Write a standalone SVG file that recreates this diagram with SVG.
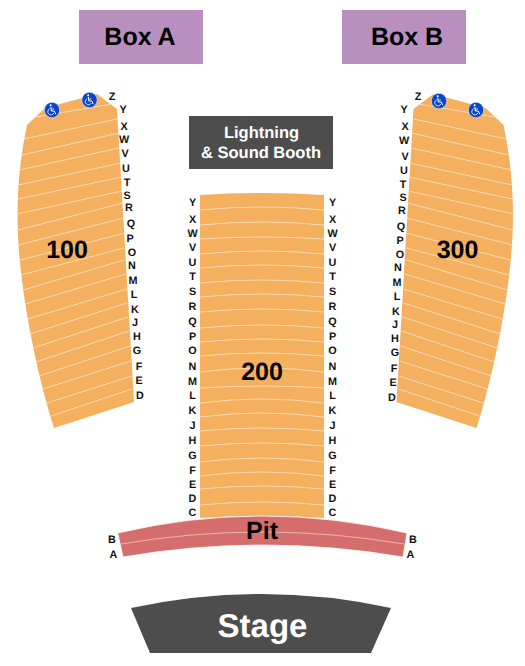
<svg xmlns="http://www.w3.org/2000/svg" xmlns:xlink="http://www.w3.org/1999/xlink" width="525" height="666" viewBox="0 0 525 666">
<style>
text{font-family:"Liberation Sans",Arial,sans-serif;font-weight:700;text-anchor:middle;text-rendering:geometricPrecision}
.sec{fill:#f4af5f}
.row{fill:none;stroke:#fbe6cc;stroke-width:.8}
.lab{font-size:10.800px;fill:#111}
.big{font-size:25px;fill:#000}
.box{fill:#b98fc0}
.dark{fill:#4d4d4d}
</style>
<defs>
<path id="side" d="M97 94L117 109L134 402L54 428C36 372 17 280 17.5 213C18 175 22 150 27 125L45 108Z"/>
<path id="sideRows" d="M36 117L112 104M24 139L117 119M22 155L119 133M19 170L119 148M18 185L121 163M18 199L122 177M17 214L122 191M18 230L123 203M18 245L124 218M20 260L125 233M21 275L124 248M23 290L124 260M25 304L126 274M28 319L127 289M30 334L127 303M33 348L128 317M36 362L129 331M39 376L130 346M43 389L131 361M47 403L132 376M51 416L132 389"/>
<g id="wc">
<circle r="7.700" fill="#0b45c6" stroke="#fff" stroke-width=".5"/>
<circle cx="-1.300" cy="-4.700" r="1" fill="#fff"/>
<path d="M-1.200 -3.200L-.7 1H2.300L3.800 4.200" fill="none" stroke="#fff" stroke-width="1"/>
<path d="M-.9 -1H2" fill="none" stroke="#fff" stroke-width=".8"/>
<path d="M-2.400 -1.200A3.200 3.200 0 1 0 1.900 3" fill="none" stroke="#fff" stroke-width=".8"/>
</g>
</defs>

<g id="box-a"><rect class="box" x="79" y="10" width="124" height="54"/><text class="big" x="140" y="45">Box A</text></g>
<g id="box-b"><rect class="box" x="342" y="10" width="124" height="54"/><text class="big" x="407" y="45">Box B</text></g>
<g id="booth"><rect class="dark" x="189" y="116" width="144" height="53"/>
<text x="261.500" y="138" font-size="16.500" fill="#fff">Lightning</text>
<text x="261" y="157.500" font-size="16.500" fill="#fff">&amp; Sound Booth</text></g>

<g id="section-100">
<use href="#side" class="sec"/>
<use href="#sideRows" class="row"/>
<text class="big" x="67" y="258">100</text>
<use href="#wc" x="52" y="110"/><use href="#wc" x="89.500" y="100"/>
<g class="lab">
<text x="112" y="100">Z</text><text x="123" y="113">Y</text><text x="124" y="130">X</text><text x="124" y="143">W</text><text x="125" y="157">V</text><text x="126" y="172">U</text><text x="127" y="186">T</text><text x="127" y="199">S</text><text x="129" y="211">R</text><text x="131" y="227">Q</text><text x="130" y="242">P</text><text x="132" y="256">O</text><text x="132" y="269">N</text><text x="133" y="284">M</text><text x="134" y="298">L</text><text x="135" y="313">K</text><text x="135" y="326">J</text><text x="137" y="340">H</text><text x="137" y="354">G</text><text x="139" y="370">F</text><text x="139" y="384">E</text><text x="140" y="399">D</text>
</g>
</g>

<g id="section-300">
<use href="#side" class="sec" transform="translate(530.500) scale(-1 1)"/>
<use href="#sideRows" class="row" transform="translate(530.500) scale(-1 1)"/>
<text class="big" x="457.500" y="258">300</text>
<use href="#wc" x="439" y="101"/><use href="#wc" x="476" y="110"/>
<g class="lab">
<text x="418" y="100">Z</text><text x="404" y="113">Y</text><text x="405" y="130">X</text><text x="404" y="144">W</text><text x="405" y="160">V</text><text x="404" y="174">U</text><text x="403" y="188">T</text><text x="403" y="201">S</text><text x="402" y="214">R</text><text x="401" y="230">Q</text><text x="400" y="244">P</text><text x="400" y="258">O</text><text x="398" y="271">N</text><text x="397" y="286">M</text><text x="397" y="300">L</text><text x="396" y="315">K</text><text x="395" y="328">J</text><text x="395" y="342">H</text><text x="395" y="356">G</text><text x="394" y="372">F</text><text x="393" y="386">E</text><text x="392" y="401">D</text>
</g>
</g>

<g id="section-200">
<path class="sec" d="M200 195Q262 191 324 195V518Q262 514 200 518Z"/>
<path class="row" d="M200 210Q262 204 324 210M200 225Q262 219 324 225M200 239Q262 235 324 239M200 254Q262 248 324 254M200 268Q262 262 324 268M200 283Q262 277 324 283M200 297Q262 291 324 297M200 312Q262 306 324 312M200 328Q262 322 324 328M200 342Q262 336 324 342M200 356Q262 350 324 356M200 372Q262 364 324 372M200 388Q262 384 324 388M200 403Q262 395 324 403M200 417Q262 409 324 417M200 431Q262 425 324 431M200 446Q262 440 324 446M200 462Q262 454 324 462M200 476Q262 468 324 476M200 489Q262 483 324 489M200 505Q262 499 324 505"/>
<text class="big" x="262" y="380">200</text>
<g class="lab">
<text x="192.500" y="206">Y</text><text x="192.500" y="223">X</text><text x="192.500" y="237">W</text><text x="192.500" y="251">V</text><text x="192.500" y="266">U</text><text x="192.500" y="280">T</text><text x="192.500" y="295">S</text><text x="192.500" y="310">R</text><text x="192.500" y="325">Q</text><text x="192.500" y="340">P</text><text x="192.500" y="354">O</text><text x="192.500" y="370">N</text><text x="192.500" y="385">M</text><text x="192.500" y="399">L</text><text x="192.500" y="414">K</text><text x="192.500" y="429">J</text><text x="192.500" y="444">H</text><text x="192.500" y="459">G</text><text x="192.500" y="474">F</text><text x="192.500" y="488">E</text><text x="192.500" y="502">D</text><text x="192.500" y="516">C</text>
<text x="332.500" y="206">Y</text><text x="332.500" y="223">X</text><text x="332.500" y="237">W</text><text x="332.500" y="251">V</text><text x="332.500" y="266">U</text><text x="332.500" y="280">T</text><text x="332.500" y="295">S</text><text x="332.500" y="310">R</text><text x="332.500" y="325">Q</text><text x="332.500" y="340">P</text><text x="332.500" y="354">O</text><text x="332.500" y="370">N</text><text x="332.500" y="385">M</text><text x="332.500" y="399">L</text><text x="332.500" y="414">K</text><text x="332.500" y="429">J</text><text x="332.500" y="444">H</text><text x="332.500" y="459">G</text><text x="332.500" y="474">F</text><text x="332.500" y="488">E</text><text x="332.500" y="502">D</text><text x="332.500" y="516">C</text>
</g>
</g>

<g id="pit">
<path d="M117.700 533Q262 499 407 533L403 557Q262 533 123 557Z" fill="#d66d6d" stroke="#fff" stroke-width=".8"/>
<path d="M121 544Q262 520 404 544" fill="none" stroke="#f3c4c0" stroke-width=".8"/>
<text class="big" x="262" y="539">Pit</text>
<g class="lab">
<text x="112" y="543">B</text><text x="113.500" y="558">A</text><text x="413" y="543">B</text><text x="410.500" y="558">A</text>
</g>
</g>

<g id="stage">
<path class="dark" d="M131 608Q262 580 391 608L371 653H150Z"/>
<text x="262.500" y="637" font-size="33" fill="#fff">Stage</text>
</g>
</svg>
